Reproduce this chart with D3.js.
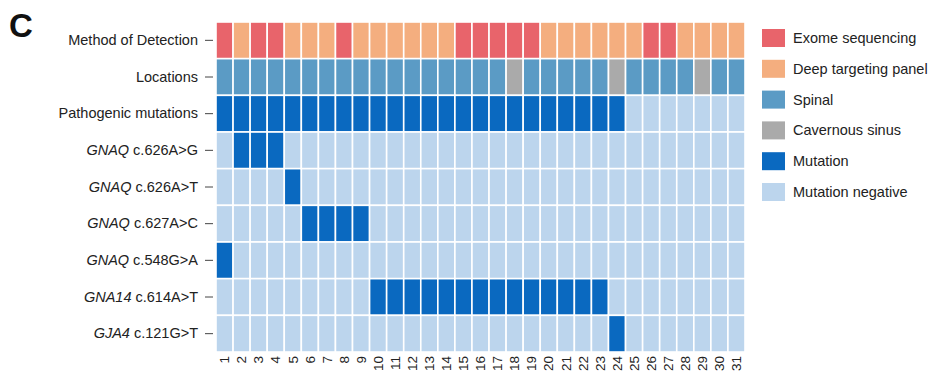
<!DOCTYPE html>
<html>
<head>
<meta charset="utf-8">
<script src="https://cdn.jsdelivr.net/npm/d3@7"></script>
<style>
  body { margin: 0; background: #fff; }
  svg { font-family: "Liberation Sans", Arial, sans-serif; }
</style>
</head>
<body>
<div id="wrapper"></div>
<script>
// data
const patients = ["1","2","3","4","5","6","7","8","9","10","11","12","13","14","15","16",
                  "17","18","19","20","21","22","23","24","25","26","27","28","29","30","31"];

const rowNames = ["Method of Detection", "Locations", "Pathogenic mutations",
                  "GNAQ c.626A>G", "GNAQ c.626A>T", "GNAQ c.627A>C", "GNAQ c.548G>A",
                  "GNA14 c.614A>T", "GJA4 c.121G>T"];

// E = exome sequencing, D = deep targeting panel
const methodOfDetection = ["E","D","E","E","D","D","D","E","D","D","D","D","D","D","E","E",
                           "E","E","E","D","D","D","D","D","D","E","E","D","D","D","D"];
// S = spinal, C = cavernous sinus
const locations = ["S","S","S","S","S","S","S","S","S","S","S","S","S","S","S","S",
                   "S","C","S","S","S","S","S","C","S","S","S","S","C","S","S"];
// 1 = mutation, 0 = mutation negative
const pathogenic = [1,1,1,1,1,1,1,1,1,1,1,1,1,1,1,1,1,1,1,1,1,1,1,1,0,0,0,0,0,0,0];
const gnaq626AG  = [0,1,1,1,0,0,0,0,0,0,0,0,0,0,0,0,0,0,0,0,0,0,0,0,0,0,0,0,0,0,0];
const gnaq626AT  = [0,0,0,0,1,0,0,0,0,0,0,0,0,0,0,0,0,0,0,0,0,0,0,0,0,0,0,0,0,0,0];
const gnaq627AC  = [0,0,0,0,0,1,1,1,1,0,0,0,0,0,0,0,0,0,0,0,0,0,0,0,0,0,0,0,0,0,0];
const gnaq548GA  = [1,0,0,0,0,0,0,0,0,0,0,0,0,0,0,0,0,0,0,0,0,0,0,0,0,0,0,0,0,0,0];
const gna14614AT = [0,0,0,0,0,0,0,0,0,1,1,1,1,1,1,1,1,1,1,1,1,1,1,0,0,0,0,0,0,0,0];
const gja4121GT  = [0,0,0,0,0,0,0,0,0,0,0,0,0,0,0,0,0,0,0,0,0,0,0,1,0,0,0,0,0,0,0];

const legendLabels = ["Exome sequencing", "Deep targeting panel", "Spinal",
                      "Cavernous sinus", "Mutation", "Mutation negative"];

// colours
const colour = d3.scaleOrdinal()
    .domain(legendLabels)
    .range(["#e8646b", "#f4ae7f", "#5b9bc5", "#aaaaaa", "#0a69c0", "#bcd5ed"]);

const methodKey = { E: "Exome sequencing", D: "Deep targeting panel" };
const locKey = { S: "Spinal", C: "Cavernous sinus" };
const mutKey = v => v ? "Mutation" : "Mutation negative";

const rowValues = [
    methodOfDetection.map(v => methodKey[v]),
    locations.map(v => locKey[v]),
    pathogenic.map(mutKey),
    gnaq626AG.map(mutKey),
    gnaq626AT.map(mutKey),
    gnaq627AC.map(mutKey),
    gnaq548GA.map(mutKey),
    gna14614AT.map(mutKey),
    gja4121GT.map(mutKey)
];

const cells = [];
rowValues.forEach((vals, r) => {
    vals.forEach((v, c) => cells.push({ row: rowNames[r], patient: patients[c], value: v }));
});

// dimensions
const dms = {
    width: 947,
    height: 384,
    margins: { top: 22, left: 216, right: 202, bottom: 32 }
};
dms.innerWidth = dms.width - dms.margins.left - dms.margins.right;
dms.innerHeight = dms.height - dms.margins.top - dms.margins.bottom;

const svg = d3.select("#wrapper")
    .append("svg")
        .attr("width", dms.width)
        .attr("height", dms.height);

const inner = svg.append("g")
    .attr("transform", `translate(${dms.margins.left},${dms.margins.top})`);

// scales
const xScale = d3.scaleBand()
    .domain(patients)
    .range([0, dms.innerWidth]);

const yScale = d3.scaleBand()
    .domain(rowNames)
    .range([0, dms.innerHeight]);

// cells
inner.append("g")
    .selectAll("rect")
    .data(cells)
    .join("rect")
        .attr("x", d => xScale(d.patient))
        .attr("y", d => yScale(d.row))
        .attr("width", xScale.bandwidth())
        .attr("height", yScale.bandwidth())
        .attr("fill", d => colour(d.value))
        .attr("stroke", "#fff")
        .attr("stroke-width", 1.6);

// y axis
const yAxis = inner.append("g")
    .attr("transform", "translate(-3,0)")
    .call(d3.axisLeft(yScale).tickSize(8).tickPadding(7))
    .call(g => g.select(".domain").remove());

yAxis.selectAll(".tick line").attr("stroke", "#444");
yAxis.selectAll(".tick text")
    .attr("fill", "#222")
    .style("font-size", "14.5px")
    .style("font-family", "'Liberation Sans', Arial, sans-serif")
    .each(function(d) {
        const t = d3.select(this);
        const m = d.match(/^(GNAQ|GNA14|GJA4) (.*)$/);
        if (m) {
            t.text(null);
            t.append("tspan").style("font-style", "italic").text(m[1]);
            t.append("tspan").text(" " + m[2]);
        }
    });

// x axis
const xAxis = inner.append("g")
    .attr("transform", `translate(0,${dms.innerHeight})`)
    .call(d3.axisBottom(xScale).tickSize(0).tickPadding(0))
    .call(g => g.select(".domain").remove());

xAxis.selectAll(".tick text")
    .attr("fill", "#222")
    .style("font-size", "13.5px")
    .style("font-family", "'Liberation Sans', Arial, sans-serif")
    .attr("transform", "rotate(-90)")
    .attr("text-anchor", "end")
    .attr("x", -4)
    .attr("y", 0)
    .attr("dy", "0.35em");

// panel letter
svg.append("text")
    .attr("x", 9)
    .attr("y", 37)
    .style("font-size", "33px")
    .style("font-weight", "bold")
    .attr("fill", "#111")
    .text("C");

// legend
const legend = svg.append("g")
    .attr("transform", "translate(762,29)");

const items = legend.selectAll("g")
    .data(legendLabels)
    .join("g")
        .attr("transform", (d, i) => `translate(0,${i * 30.8})`);

items.append("rect")
    .attr("width", 23)
    .attr("height", 18)
    .attr("fill", d => colour(d));

items.append("text")
    .attr("x", 31)
    .attr("y", 9)
    .attr("dy", "0.35em")
    .attr("fill", "#222")
    .style("font-size", "14.5px")
    .text(d => d);
</script>
</body>
</html>
